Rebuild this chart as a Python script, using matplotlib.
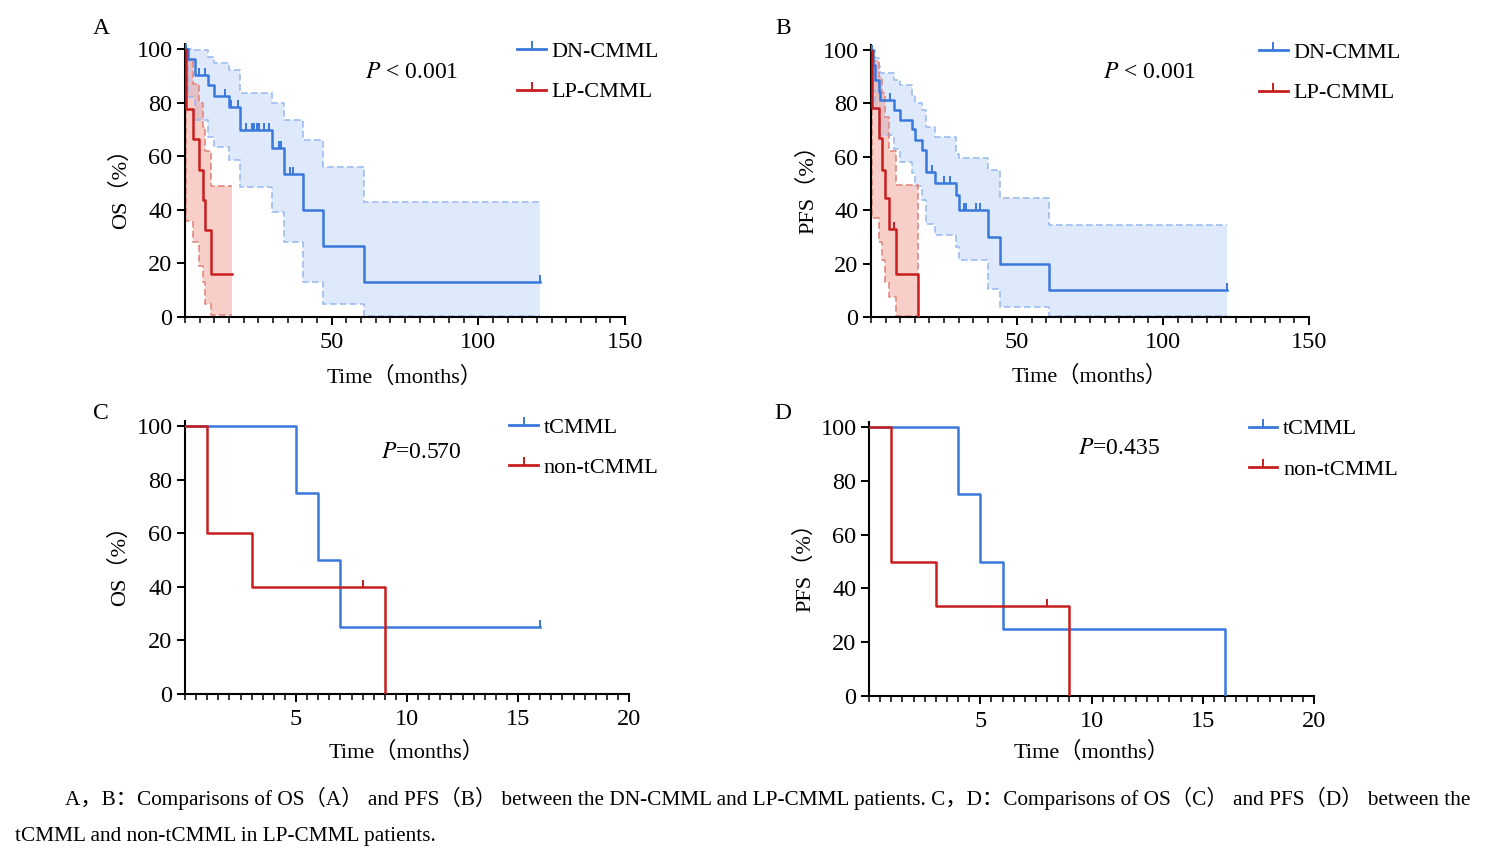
""" Kaplan-Meier curves, DN-CMML vs LP-CMML and tCMML vs non-tCMML
"""

import numpy as np
import matplotlib
matplotlib.use('Agg')
import matplotlib.pyplot as plt
from matplotlib.path import Path
from matplotlib.lines import Line2D

# ---- panel A: OS, DN-CMML vs LP-CMML (months, %)
os_dn_t = [0, 1.1, 3.5, 7.7, 9.8, 14.9, 18.7, 29.5, 33.9, 40.1, 46.9, 60.9, 121.1]
os_dn_s = [100, 96.3, 90.3, 86.6, 82.6, 78.5, 69.7, 62.9, 53.5, 39.9, 26.4, 13.1, 13.1]
os_dn_hi = [100, 100, 99.6, 97, 94.6, 92.2, 83.5, 79.7, 73.5, 66, 56.1, 43, 43]
os_dn_lo = [100, 82, 73.5, 67.2, 63.5, 58.5, 48.6, 39.3, 28.1, 13.2, 4.9, 0.5, 0.5]
os_dn_cens = [0.4, 4.9, 6.9, 13.7, 15.7, 17.9, 20.8, 22.8, 23.6, 24.4, 25.1,
              26.8, 28.7, 31.9, 32.7, 35.8, 36.7, 121.1]

os_lp_t = [0, 0.3, 2.6, 4.7, 6.0, 6.8, 8.9, 15.9]
os_lp_s = [100, 77.6, 66.6, 54.8, 43.8, 32.6, 16.2, 16.2]
os_lp_hi = [100, 96, 87, 80, 71, 62, 49, 49]
os_lp_lo = [100, 36, 28, 19, 13, 5, 0.7, 0.7]
os_lp_cens = []

# ---- panel B: PFS, DN-CMML vs LP-CMML
pfs_dn_t = [0, 0.7, 1.5, 2.6, 3.2, 7.8, 9.8, 14.0, 15.2, 17.5, 18.9, 22.0,
            29.2, 30.0, 39.9, 44.3, 61.1, 121.8]
pfs_dn_s = [100, 94.4, 88.8, 84.4, 81.3, 77.5, 73.8, 70.3, 66.3, 62.5, 54.4,
            50.3, 45.6, 40.0, 30.0, 20.0, 10.0, 10.0]
pfs_dn_hi = [100, 100, 97, 94, 91.3, 88.8, 86.9, 83.1, 80, 77.5, 71.3, 67.5,
             61, 59.4, 55, 44.4, 34.4, 34.4]
pfs_dn_lo = [100, 85, 78, 72, 68, 63, 58, 54, 49, 44, 35, 30.6, 26.3, 21.3,
             10.6, 3.8, 0.5, 0.5]
pfs_dn_cens = [0.3, 6.5, 20.8, 24.9, 26.9, 31.7, 32.6, 36.0, 37.2, 121.8]

pfs_lp_t = [0, 0.3, 2.6, 3.8, 4.9, 6.0, 8.7, 16.1]
pfs_lp_s = [100, 78.1, 66.9, 55.0, 44.4, 33.1, 16.25, 0]
pfs_lp_hi = [100, 96, 90, 84, 75, 62, 49.4, 0]
pfs_lp_lo = [100, 37, 28, 21.3, 13, 7.5, 0.5, 0]
pfs_lp_cens = [7.8]

# ---- panel C: OS, tCMML vs non-tCMML
os_tc_t = [0, 5, 6, 7, 16]
os_tc_s = [100, 75, 50, 25, 25]
os_tc_cens = [16]
os_ntc_t = [0, 1, 3, 9]
os_ntc_s = [100, 60, 40, 0]
os_ntc_cens = [8]

# ---- panel D: PFS, tCMML vs non-tCMML
pfs_tc_t = [0, 4, 5, 6, 16]
pfs_tc_s = [100, 75, 50, 25, 0]
pfs_tc_cens = []
pfs_ntc_t = [0, 1, 3, 9]
pfs_ntc_s = [100, 50, 33.3, 0]
pfs_ntc_cens = [8]

p_values = [' < 0.001', ' < 0.001', '=0.570', '=0.435']
panel_labels = ['A', 'B', 'C', 'D']

FONT = ['Liberation Serif', 'Noto Sans CJK SC']
plt.rcParams['font.family'] = FONT
plt.rcParams['mathtext.fontset'] = 'stix'

BLUE = '#3a78dc'
RED = '#c81e1e'
BLUE_CI = '#9fbdf0'
RED_CI = '#e08a80'

# censor mark: small vertical stroke going up from the curve
TICK = Path([(0, 0), (0, 1)], [Path.MOVETO, Path.LINETO])


def surv_at(t, s, x):
    i = np.searchsorted(t, x, side='right') - 1
    return s[i]


def draw_curve(ax, t, s, cens, color, lw=1.8):
    ax.step(t, s, where='post', color=color, lw=lw, zorder=4)
    if cens:
        ys = [surv_at(t, s, c) for c in cens]
        ax.plot(cens, ys, ls='none', marker=TICK, ms=10, mew=1.4,
                color=color, zorder=5)


def draw_ci(ax, t, lo, hi, color, fill, alpha):
    ax.fill_between(t, lo, hi, step='post', color=fill, alpha=alpha,
                    lw=0, zorder=1)
    for arr in (lo, hi):
        ax.step(t, arr, where='post', color=color, lw=1.2, ls=(0, (4, 2)),
                zorder=2)


def style_axis(ax, xmax, major, minor, ylabel, xlab_y, ylab_x):
    ax.set_xlim(0, xmax)
    ax.set_ylim(0, 102)
    ax.spines['top'].set_visible(False)
    ax.spines['right'].set_visible(False)
    for sp in ('left', 'bottom'):
        ax.spines[sp].set_linewidth(1.5)
    ax.set_xticks(major)
    ax.set_xticks(minor, minor=True)
    ax.set_yticks([0, 20, 40, 60, 80, 100])
    ax.tick_params(which='major', direction='out', length=6, width=1.4,
                   labelsize=17.5)
    ax.tick_params(axis='x', which='major', pad=5)
    ax.tick_params(axis='y', which='major', pad=3)
    ax.tick_params(which='minor', direction='out', length=4, width=1.1)
    ax.set_ylabel(ylabel, fontsize=16)
    ax.yaxis.set_label_coords(ylab_x, 0.49)
    ax.set_xlabel('Time（months）', fontsize=16)
    ax.xaxis.set_label_coords(0.5, xlab_y)


def add_legend(ax, labels, x, y):
    handles = [
        Line2D([0], [0], color=BLUE, lw=2, marker=TICK, ms=11, mew=1.4),
        Line2D([0], [0], color=RED, lw=2, marker=TICK, ms=11, mew=1.4),
    ]
    ax.legend(handles, labels, loc='upper left', bbox_to_anchor=(x, y),
              frameon=False, fontsize=16, handlelength=1.3,
              handletextpad=0.25, labelspacing=0.89, borderpad=0,
              borderaxespad=0, numpoints=1)


W, H = 1493, 859
fig = plt.figure(figsize=(W / 100, H / 100), dpi=100)


def px_axes(left, right, bottom, top100):
    # pixel box -> figure fraction, top100 is where y=100 sits
    h = (bottom - top100) * 1.02
    return fig.add_axes([left / W, 1 - bottom / H, (right - left) / W, h / H])


axA = px_axes(185, 625, 317, 49)
axB = px_axes(871, 1309, 317, 50)
axC = px_axes(185, 629, 694, 426)
axD = px_axes(869, 1314, 696, 427)

# A
draw_ci(axA, os_dn_t, os_dn_lo, os_dn_hi, BLUE_CI, '#4a8cf0', 0.18)
draw_ci(axA, os_lp_t, os_lp_lo, os_lp_hi, RED_CI, '#ec6a55', 0.32)
draw_curve(axA, os_dn_t, os_dn_s, os_dn_cens, BLUE)
draw_curve(axA, os_lp_t, os_lp_s, os_lp_cens, RED)
style_axis(axA, 150, [50, 100, 150], np.arange(0, 151, 5), 'OS（%）',
           -0.18, -0.123)
add_legend(axA, ['DN-CMML', 'LP-CMML'], 0.755, 1.008)

# B
draw_ci(axB, pfs_dn_t, pfs_dn_lo, pfs_dn_hi, BLUE_CI, '#4a8cf0', 0.18)
draw_ci(axB, pfs_lp_t, pfs_lp_lo, pfs_lp_hi, RED_CI, '#ec6a55', 0.32)
draw_curve(axB, pfs_dn_t, pfs_dn_s, pfs_dn_cens, BLUE)
draw_curve(axB, pfs_lp_t, pfs_lp_s, pfs_lp_cens, RED)
style_axis(axB, 150, [50, 100, 150], np.arange(0, 151, 5), 'PFS（%）',
           -0.18, -0.12)
add_legend(axB, ['DN-CMML', 'LP-CMML'], 0.885, 1.008)

# C
draw_curve(axC, os_tc_t, os_tc_s, os_tc_cens, BLUE)
draw_curve(axC, os_ntc_t, os_ntc_s, os_ntc_cens, RED)
style_axis(axC, 20, [5, 10, 15, 20], np.arange(0, 20.01, 0.5), 'OS（%）',
           -0.174, -0.123)
add_legend(axC, ['tCMML', 'non-tCMML'], 0.73, 1.012)

# D
draw_curve(axD, pfs_tc_t, pfs_tc_s, pfs_tc_cens, BLUE)
draw_curve(axD, pfs_ntc_t, pfs_ntc_s, pfs_ntc_cens, RED)
style_axis(axD, 20, [5, 10, 15, 20], np.arange(0, 20.01, 0.5), 'PFS（%）',
           -0.167, -0.12)
add_legend(axD, ['tCMML', 'non-tCMML'], 0.853, 1.01)

# P values and panel letters
p_pos = [(365, 73), (1103, 72), (381, 452), (1078, 449)]
for (px, py), pv in zip(p_pos, p_values):
    fig.text(px / W, 1 - py / H, r'$\it{P}$' + pv, fontsize=17,
             va='center', ha='left')

letter_pos = [(101, 28), (783, 28), (101, 413), (783, 413)]
for (px, py), lab in zip(letter_pos, panel_labels):
    fig.text(px / W, 1 - py / H, lab, fontsize=17, va='center', ha='center')

caption1 = ('A，B：Comparisons of OS（A） and PFS（B） between the DN-CMML and '
            'LP-CMML patients. C，D：Comparisons of OS（C） and PFS（D） between the')
caption2 = 'tCMML and non-tCMML in LP-CMML patients.'
fig.text(65 / W, 1 - 798 / H, caption1, fontsize=15.3, va='center', ha='left')
fig.text(15 / W, 1 - 836 / H, caption2, fontsize=15.3, va='center', ha='left')

fig.savefig('out.png', dpi=100)
